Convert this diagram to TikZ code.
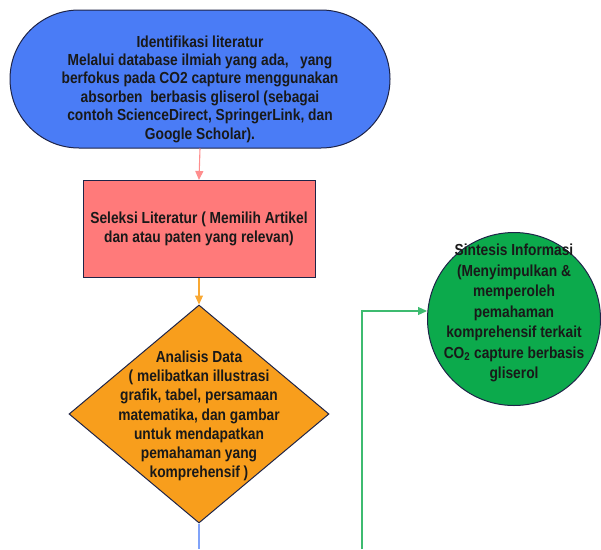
\documentclass[tikz,border=0pt]{standalone}
\usepackage{fontspec}
\setmainfont{Liberation Sans}[FakeStretch=0.86]
\usepackage{xcolor}
\definecolor{idblue}{HTML}{4A7CF6}
\definecolor{selpink}{HTML}{FF7A7A}
\definecolor{anaorange}{HTML}{F89E1C}
\definecolor{singreen}{HTML}{0CAA4C}
\definecolor{edge}{HTML}{1E2448}
\usetikzlibrary{arrows.meta,shapes.geometric}

\begin{document}
\begin{tikzpicture}[
		x=1pt, y=-1pt,
		>={Triangle[length=9pt,width=8pt]},
		font=\bfseries\fontsize{16}{18.4}\selectfont,
		shapebox/.style={
			draw=edge,
			line width=1pt,
			align=center,
			inner sep=0pt,
			text=black!90
		},
		txt/.style={
			align=center,
			inner sep=0pt,
			text=black!90
		},
		arrow/.style={
			->,
			line width=1.1pt
		}
	]
	\useasboundingbox (0,0) rectangle (601,549);
	
	% Identification of literature
	\node[shapebox, fill=idblue, rounded corners=69pt, minimum width=380pt, minimum height=138pt] (ident) at (200,79) {};
	\node[txt] (identtext) at (200,89) {%
		Identifikasi literatur\\
		Melalui database ilmiah yang ada,\ \ \ yang\\
		berfokus pada CO2 capture menggunakan\\
		absorben\ \ berbasis gliserol (sebagai\\
		contoh ScienceDirect, SpringerLink, dan\\
		Google Scholar).
	};
	
	% Selection
	\node[shapebox, fill=selpink, minimum width=232pt, minimum height=97pt] (sel) at (199,229) {%
		Seleksi Literatur ( Memilih Artikel\\
		dan atau paten yang relevan)
	};
	
	% Analysis (diamond)
	\node[shapebox, shape=diamond, fill=anaorange, minimum width=260pt, minimum height=218pt] (ana) at (199,414) {};
	\node[txt, font=\bfseries\fontsize{16}{19.2}\selectfont] (anatext) at (199,416) {%
		Analisis Data\\
		( melibatkan illustrasi\\
		grafik, tabel, persamaan\\
		matematika, dan gambar\\
		untuk mendapatkan\\
		pemahaman yang\\
		komprehensif )
	};
	
	% Synthesis (circle)
	\node[shapebox, shape=circle, fill=singreen, minimum size=173pt] (sin) at (514,319) {};
	\node[txt, font=\bfseries\fontsize{16}{20.5}\selectfont] (sintext) at (514,313) {%
		Sintesis Informasi\\
		(Menyimpulkan \&\\
		memperoleh\\
		pemahaman\\
		komprehensif terkait\\
		CO\textsubscript{2} capture berbasis\\
		gliserol
	};
	
	% Loose ends at the bottom border
	\coordinate (bluend) at (199,549);
	\coordinate (grnend) at (362,549);
	
	% Connectors
	\draw[arrow, draw=selpink!85!white] (ident.south) -- (sel.north);
	\draw[arrow, draw=anaorange!90!white] (sel.south) -- (ana.north);
	\draw[line width=1.1pt, draw=idblue!70!white] (ana.south) -- (bluend);
	\draw[arrow, draw=singreen!80!white] (grnend) |- (sin.west |- 0,311);
	
\end{tikzpicture}
\end{document}
